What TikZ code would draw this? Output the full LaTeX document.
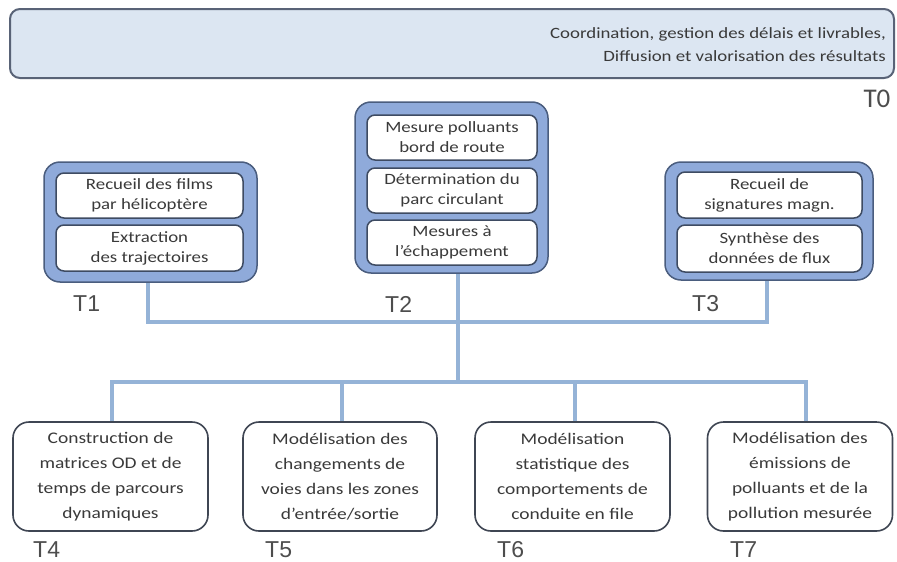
\documentclass[tikz,border=0pt]{standalone}
\usepackage{fontspec}
\setmainfont{Carlito}[FakeStretch=1.2]
\newfontfamily\labfont{Liberation Sans}
\newfontfamily\tzfont{Carlito}
\definecolor{t0fill}{HTML}{DCE6F2}
\definecolor{t0draw}{HTML}{596377}
\definecolor{midblue}{HTML}{8FAADA}
\definecolor{outl}{HTML}{4A5D7E}
\definecolor{inl}{HTML}{3E4B62}
\definecolor{botl}{HTML}{3F4653}
\definecolor{lineblue}{HTML}{95B3D7}
\definecolor{txt}{HTML}{3A3A3A}
\definecolor{labc}{HTML}{4D4D4D}
\tikzset{
  t0box/.style={draw=t0draw, fill=t0fill, line width=2pt, rounded corners=10pt, minimum width=884pt, minimum height=69pt, inner sep=0pt},
  outerbox/.style={draw=outl, fill=midblue, line width=1.5pt, rounded corners=16pt, inner sep=0pt},
  innerbox/.style={draw=inl, fill=white, line width=1.5pt, rounded corners=8pt, inner sep=0pt, align=center, text=txt, font=\fontsize{15.7}{20}\selectfont},
  botbox/.style={draw=botl, fill=white, line width=1.6pt, rounded corners=16pt, inner sep=0pt, minimum height=109pt, align=center, text=txt, font=\fontsize{16.2}{25}\selectfont},
  tlab/.style={anchor=west, inner sep=0pt, text=labc, font=\labfont\fontsize{23}{23}\selectfont},
  conn/.style={draw=lineblue, line width=4pt}
}
\begin{document}
\begin{tikzpicture}[x=1pt,y=-1pt]
\useasboundingbox (0,0) rectangle (897,562);
\fill[white] (0,0) rectangle (897,562);

% T0
\node[t0box] (t0) at (452,43.5) {};
\node[anchor=east, align=right, inner sep=0pt, text=txt, font=\fontsize{15.7}{23}\selectfont] (t0txt) at (886,45)
  {Coordination, gestion des délais et livrables,\\Diffusion et valorisation des résultats};
\node[inner sep=0pt, text=labc, font=\tzfont\fontsize{27}{27}\selectfont] (t0lab) at (877,99) {T0};

% outer boxes
\node[outerbox, minimum width=213pt, minimum height=120pt] (t1) at (150.5,222) {};
\node[outerbox, minimum width=193pt, minimum height=171pt] (t2) at (451.5,187.5) {};
\node[outerbox, minimum width=208pt, minimum height=118pt] (t3) at (769,221) {};

% inner boxes
\node[innerbox, minimum width=187pt, minimum height=45pt] (t1a) at (149.5,195.5) {Recueil des films\\par hélicoptère};
\node[innerbox, minimum width=187pt, minimum height=46pt] (t1b) at (149.5,248) {Extraction\\des trajectoires};
\node[innerbox, minimum width=170pt, minimum height=45pt] (t2a) at (452,137.5) {Mesure polluants\\bord de route};
\node[innerbox, minimum width=170pt, minimum height=45pt] (t2b) at (452,190.5) {Détermination du\\parc circulant};
\node[innerbox, minimum width=170pt, minimum height=45pt] (t2c) at (452,242.5) {Mesures à\\l’échappement};
\node[innerbox, minimum width=185pt, minimum height=46pt] (t3a) at (769.5,195) {Recueil de\\signatures magn.};
\node[innerbox, minimum width=185pt, minimum height=47pt] (t3b) at (769.5,248.5) {Synthèse des\\données de flux};

% labels
\node[tlab] (l1) at (73,304) {T1};
\node[tlab] (l2) at (385,304) {T2};
\node[tlab] (l3) at (692,304) {T3};

% bottom boxes
\node[botbox, minimum width=195pt] (t4) at (110.5,476.5) {Construction de\\matrices OD et de\\temps de parcours\\dynamiques};
\node[botbox, minimum width=194pt] (t5) at (340,476.5) {Modélisation des\\changements de\\voies dans les zones\\d’entrée/sortie};
\node[botbox, minimum width=195pt] (t6) at (572.5,476.5) {Modélisation\\statistique des\\comportements de\\conduite en file};
\node[botbox, minimum width=185pt] (t7) at (800,476.5) {Modélisation des\\émissions de\\polluants et de la\\pollution mesurée};

\node[tlab] (l4) at (33,550) {T4};
\node[tlab] (l5) at (265,550) {T5};
\node[tlab] (l6) at (497,550) {T6};
\node[tlab] (l7) at (730,550) {T7};

% connectors
\coordinate (hub) at (458,322);
\coordinate (hub2) at (458,382);
\draw[conn] ([xshift=-2.5pt]t1.south) |- (hub) -| ([xshift=-2pt]t3.south);
\draw[conn] ([xshift=6.5pt]t2.south) -- (hub) -- (hub2);
\draw[conn] ([xshift=1.5pt]t4.north) |- (hub2) -| ([xshift=6pt]t7.north);
\draw[conn] ([xshift=2pt]t5.north) -- ([xshift=2pt]t5.north |- hub2);
\draw[conn] ([xshift=2.5pt]t6.north) -- ([xshift=2.5pt]t6.north |- hub2);
\end{tikzpicture}
\end{document}
